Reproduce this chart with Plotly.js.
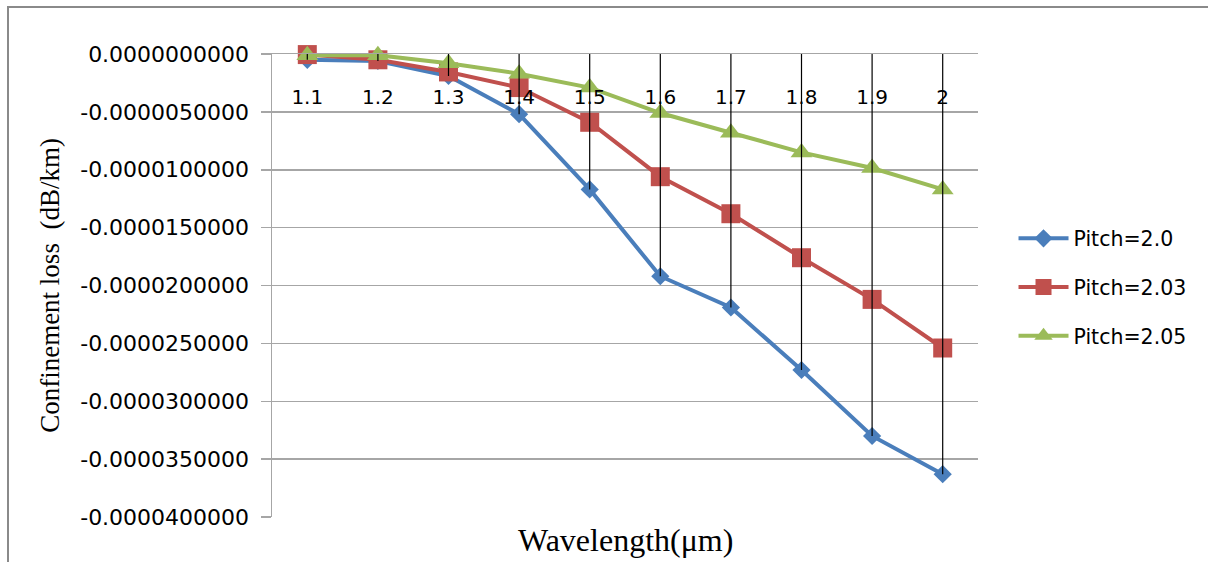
<!DOCTYPE html>
<html>
<head>
<meta charset="utf-8">
<script src="https://cdn.plot.ly/plotly-3.0.1.min.js"></script>
<style>
  html, body { margin: 0; padding: 0; overflow: hidden; background: #fff; }
  #chart { position: absolute; left: 0; top: 0; width: 1208px; height: 562px; }
  #frame { position: absolute; left: 7px; top: 6px; width: 1400px; height: 800px;
           border-left: 2px solid #8a8a8a; border-top: 2px solid #8a8a8a; pointer-events: none; }
</style>
</head>
<body>
<div id="chart"></div>
<div id="frame"></div>
<script>
const categories = ['1.1', '1.2', '1.3', '1.4', '1.5', '1.6', '1.7', '1.8', '1.9', '2'];
const seriesNames = ['Pitch=2.0', 'Pitch=2.03', 'Pitch=2.05'];
const pitch200 = [-0.5e-6, -0.6e-6, -1.9e-6, -5.2e-6, -11.7e-6, -19.2e-6, -21.9e-6, -27.3e-6, -33.0e-6, -36.3e-6];
const pitch203 = [-0.05e-6, -0.5e-6, -1.55e-6, -2.9e-6, -5.9e-6, -10.6e-6, -13.8e-6, -17.6e-6, -21.2e-6, -25.4e-6];
const pitch205 = [-0.1e-6, -0.1e-6, -0.8e-6, -1.7e-6, -2.9e-6, -5.1e-6, -6.8e-6, -8.5e-6, -9.85e-6, -11.7e-6];
const yTickVals = [0, -5e-6, -10e-6, -15e-6, -20e-6, -25e-6, -30e-6, -35e-6, -40e-6];
const yTickText = ['0.0000000000', '-0.0000050000', '-0.0000100000', '-0.0000150000', '-0.0000200000',
                   '-0.0000250000', '-0.0000300000', '-0.0000350000', '-0.0000400000'];
const xTitle = 'Wavelength(\u03bcm)';
const yTitle = 'Confinement loss\u00a0 (dB/km)';

const colors = ['#4a7ebb', '#c0504d', '#9bbb59'];
const symbols = ['diamond', 'square', 'triangle-up'];
const sizes = [14, 19, 19];
const allSeries = [pitch200, pitch203, pitch205];

const traces = allSeries.map((vals, i) => ({
  type: 'scatter', mode: 'lines+markers', name: seriesNames[i],
  x: categories, y: vals, cliponaxis: false, legendgroup: 'g' + i,
  line: { color: colors[i], width: 4 },
  marker: { color: colors[i], symbol: symbols[i], size: sizes[i], line: { width: 0 } }
}));

// drop lines from the category axis (y = 0) to the lowest point at each category
const dropX = [], dropY = [];
categories.forEach((c, k) => {
  const lo = Math.min(...allSeries.map(s => s[k]));
  dropX.push(c, c, null);
  dropY.push(0, lo, null);
});
traces.push({
  type: 'scatter', mode: 'lines', x: dropX, y: dropY, xaxis: 'x2', yaxis: 'y',
  showlegend: false, cliponaxis: false, hoverinfo: 'skip',
  line: { color: '#000', width: 1.2 }
});

const layout = {
  width: 1208, height: 562,
  margin: { l: 272, r: 230, t: 53.5, b: 45.3 },
  paper_bgcolor: '#fff', plot_bgcolor: '#fff',
  showlegend: true,
  font: { family: 'DejaVu Sans', color: '#000' },
  xaxis: {
    type: 'category', side: 'top', range: [-0.5, 9.5],
    showgrid: false, zeroline: false,
    showline: true, linecolor: '#a6a6a6', linewidth: 1.5,
    ticks: '', showticklabels: false
  },
  xaxis2: {
    type: 'category', overlaying: 'x', anchor: 'free', side: 'bottom', position: 0.9363,
    range: [-0.5, 9.5], showgrid: false, zeroline: false, showline: false, ticks: '',
    tickfont: { family: 'DejaVu Sans', size: 20, color: '#000' }
  },
  yaxis: {
    range: [-40e-6, 0], tickvals: yTickVals, ticktext: yTickText,
    showgrid: true, gridcolor: '#a6a6a6', gridwidth: 1.5, zeroline: false,
    showline: true, linecolor: '#a6a6a6', linewidth: 1.5,
    ticks: 'outside', ticklen: 10, tickcolor: '#a6a6a6', tickwidth: 1.5,
    ticklabelstandoff: 7,
    tickfont: { family: 'DejaVu Sans', size: 22, color: '#000' },
    title: { text: yTitle, font: { family: 'Liberation Serif', size: 27, color: '#000' }, standoff: 12 }
  },
  legend: {
    xref: 'container', yref: 'container', x: 0.839, y: 0.4893, yanchor: 'middle', xanchor: 'left',
    traceorder: 'grouped', tracegroupgap: 19, itemwidth: 50,
    font: { family: 'DejaVu Sans', size: 20.5, color: '#000' },
    bgcolor: 'rgba(0,0,0,0)'
  },
  annotations: [{
    text: xTitle, xref: 'paper', yref: 'paper', x: 0.5, y: -0.0503,
    xanchor: 'center', yanchor: 'middle', showarrow: false,
    font: { family: 'Liberation Serif', size: 32, color: '#000' }
  }]
};

Plotly.newPlot('chart', traces, layout, { displayModeBar: false, staticPlot: true });
</script>
</body>
</html>
